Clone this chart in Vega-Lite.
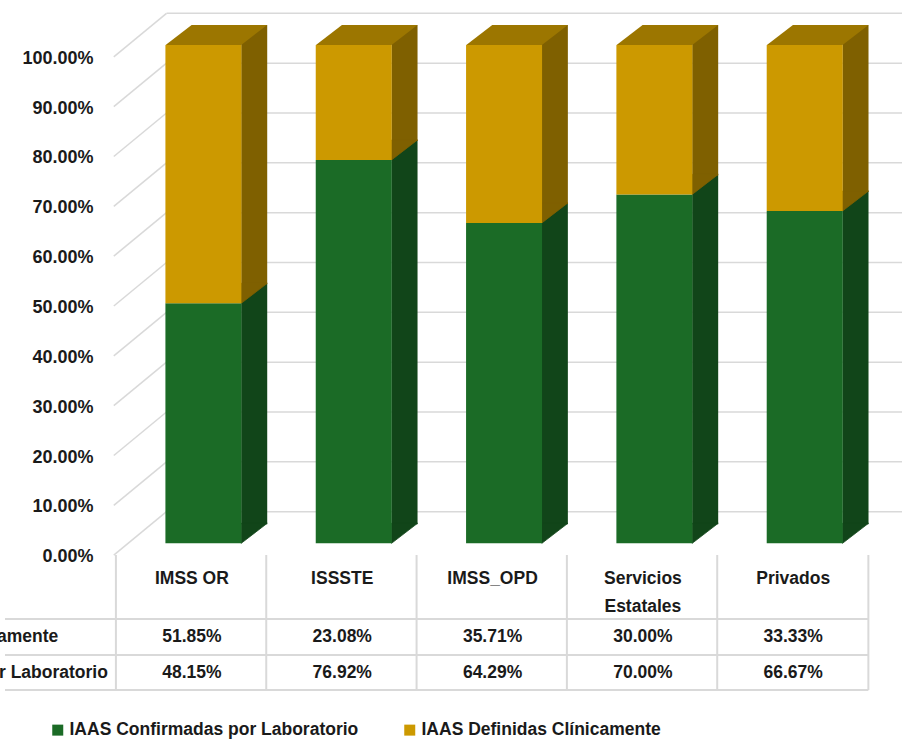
{
  "$schema": "https://vega.github.io/schema/vega-lite/v6.json",
  "width": 907,
  "height": 740,
  "autosize": {"type": "none"},
  "padding": 0,
  "background": "white",
  "config": {"view": {"stroke": null}},
  "datasets": {
    "main": [
      {"cat": "IMSS OR", "idx": 0, "serie": "IAAS Confirmadas por Laboratorio", "value": 0.4815},
      {"cat": "IMSS OR", "idx": 0, "serie": "IAAS Definidas Clínicamente", "value": 0.5185},
      {"cat": "ISSSTE", "idx": 1, "serie": "IAAS Confirmadas por Laboratorio", "value": 0.7692},
      {"cat": "ISSSTE", "idx": 1, "serie": "IAAS Definidas Clínicamente", "value": 0.2308},
      {"cat": "IMSS_OPD", "idx": 2, "serie": "IAAS Confirmadas por Laboratorio", "value": 0.6429},
      {"cat": "IMSS_OPD", "idx": 2, "serie": "IAAS Definidas Clínicamente", "value": 0.3571},
      {"cat": "Servicios Estatales", "idx": 3, "serie": "IAAS Confirmadas por Laboratorio", "value": 0.70},
      {"cat": "Servicios Estatales", "idx": 3, "serie": "IAAS Definidas Clínicamente", "value": 0.30},
      {"cat": "Privados", "idx": 4, "serie": "IAAS Confirmadas por Laboratorio", "value": 0.6667},
      {"cat": "Privados", "idx": 4, "serie": "IAAS Definidas Clínicamente", "value": 0.3333}
    ],
    "ticks": [{"t": 0}, {"t": 0.1}, {"t": 0.2}, {"t": 0.3}, {"t": 0.4}, {"t": 0.5}, {"t": 0.6}, {"t": 0.7}, {"t": 0.8}, {"t": 0.9}, {"t": 1}],
    "cats": [
      {"idx": 0, "label": "IMSS OR"},
      {"idx": 1, "label": "ISSSTE"},
      {"idx": 2, "label": "IMSS_OPD"},
      {"idx": 3, "label": "Servicios\nEstatales"},
      {"idx": 4, "label": "Privados"}
    ],
    "series": [
      {"serie": "IAAS Definidas Clínicamente"},
      {"serie": "IAAS Confirmadas por Laboratorio"}
    ]
  },
  "layer": [
    {
      "data": {"name": "ticks"},
      "mark": {"type": "rule", "color": "#d9d9d9", "strokeWidth": 1.5, "yOffset": -45},
      "encoding": {
        "x": {"datum": -0.16908, "type": "quantitative", "scale": {"type": "linear", "domain": [-1.24342, 4.72368], "nice": false, "zero": false}, "axis": null},
        "x2": {"datum": 4.72368},
        "y": {"field": "t", "type": "quantitative", "scale": {"type": "linear", "domain": [-0.36778, 1.11697], "nice": false, "zero": false},
          "axis": {"values": [0, 0.1, 0.2, 0.3, 0.4, 0.5, 0.6, 0.7, 0.8, 0.9, 1], "format": ".2%", "offset": -110, "domain": false, "ticks": false, "grid": false, "labelPadding": 17, "labelFont": "Liberation Sans", "labelFontWeight": "bold", "labelFontSize": 18, "labelColor": "#1a1a1a", "title": null}}
      }
    },
    {
      "data": {"name": "ticks"},
      "mark": {"type": "rule", "color": "#d9d9d9", "strokeWidth": 1.5, "yOffset": -1.5, "y2Offset": -45},
      "encoding": {
        "x": {"datum": -0.51974, "type": "quantitative"},
        "x2": {"datum": -0.16908},
        "y": {"field": "t", "type": "quantitative"},
        "y2": {"field": "t"}
      }
    },
    {
      "data": {"name": "main"},
      "transform": [{"stack": "value", "groupby": ["cat"], "sort": [{"field": "serie", "order": "ascending"}], "as": ["v0", "v1"]}],
      "mark": {"type": "bar", "width": 26, "xOffset": 62.3, "yOffset": -33.4, "y2Offset": -32.4},
      "encoding": {
        "x": {"field": "idx", "type": "quantitative"},
        "y": {"field": "v1", "type": "quantitative"},
        "y2": {"field": "v0"},
        "color": {"condition": {"test": "datum.serie === 'IAAS Definidas Clínicamente'", "value": "#7f6000"}, "value": "#114519"}
      }
    },
    {
      "data": {"name": "main"},
      "transform": [{"stack": "value", "groupby": ["cat"], "sort": [{"field": "serie", "order": "ascending"}], "as": ["v0", "v1"]}],
      "mark": {"type": "point", "shape": "M0,-20L0,0L26,-20Z", "size": 4, "filled": true, "opacity": 1, "strokeWidth": 0.8, "xOffset": 49.3, "yOffset": -13.4},
      "encoding": {
        "x": {"field": "idx", "type": "quantitative"},
        "y": {"field": "v0", "type": "quantitative"},
        "fill": {"condition": {"test": "datum.serie === 'IAAS Definidas Clínicamente'", "value": "#7f6000"}, "value": "#114519"},
        "stroke": {"condition": {"test": "datum.serie === 'IAAS Definidas Clínicamente'", "value": "#7f6000"}, "value": "#114519"}
      }
    },
    {
      "data": {"name": "main"},
      "transform": [{"stack": "value", "groupby": ["cat"], "sort": [{"field": "serie", "order": "ascending"}], "as": ["v0", "v1"]}],
      "mark": {"type": "bar", "width": 76, "xOffset": 11.5, "yOffset": -13.4, "y2Offset": -13.4},
      "encoding": {
        "x": {"field": "idx", "type": "quantitative"},
        "y": {"field": "v1", "type": "quantitative"},
        "y2": {"field": "v0"},
        "color": {
          "field": "serie", "type": "nominal",
          "scale": {"domain": ["IAAS Confirmadas por Laboratorio", "IAAS Definidas Clínicamente"], "range": ["#1b6b26", "#cc9900"]},
          "legend": {"orient": "none", "legendX": 49, "legendY": 721, "direction": "horizontal", "title": null, "padding": 0,
            "symbolType": "square", "symbolSize": 121, "symbolStrokeWidth": 0, "symbolOpacity": 1,
            "labelFont": "Liberation Sans", "labelFontWeight": "bold", "labelFontSize": 17.5, "labelColor": "#1a1a1a",
            "labelOffset": 3, "columnPadding": 42, "labelLimit": 400}
        }
      }
    },
    {
      "data": {"name": "main"},
      "transform": [
        {"stack": "value", "groupby": ["cat"], "sort": [{"field": "serie", "order": "ascending"}], "as": ["v0", "v1"]},
        {"filter": "datum.serie === 'IAAS Definidas Clínicamente'"}
      ],
      "mark": {"type": "point", "shape": "M0,0L75.6,0L101.6,-20L26,-20Z", "size": 4, "filled": true, "opacity": 1, "strokeWidth": 0, "xOffset": -26.3, "yOffset": -13.4, "color": "#9c7600"},
      "encoding": {
        "x": {"field": "idx", "type": "quantitative"},
        "y": {"field": "v1", "type": "quantitative"}
      }
    },
    {
      "data": {"name": "cats"},
      "mark": {"type": "rule", "color": "#d9d9d9", "strokeWidth": 2, "xOffset": -76},
      "encoding": {
        "x": {"field": "idx", "type": "quantitative"},
        "y": {"datum": 0.0034, "type": "quantitative"},
        "y2": {"datum": -0.2675}
      }
    },
    {
      "data": {"values": [{}]},
      "mark": {"type": "rule", "color": "#d9d9d9", "strokeWidth": 2},
      "encoding": {
        "x": {"datum": 4.5, "type": "quantitative"},
        "y": {"datum": 0.0034, "type": "quantitative"},
        "y2": {"datum": -0.2675}
      }
    },
    {
      "data": {"values": [{}]},
      "mark": {"type": "rule", "color": "#d9d9d9", "strokeWidth": 2},
      "encoding": {
        "x": {"datum": -1.24342, "type": "quantitative"},
        "x2": {"datum": 4.5},
        "y": {"datum": -0.125, "type": "quantitative"}
      }
    },
    {
      "data": {"values": [{}]},
      "mark": {"type": "rule", "color": "#d9d9d9", "strokeWidth": 2},
      "encoding": {
        "x": {"datum": -1.24342, "type": "quantitative"},
        "x2": {"datum": 4.5},
        "y": {"datum": -0.1972, "type": "quantitative"}
      }
    },
    {
      "data": {"values": [{}]},
      "mark": {"type": "rule", "color": "#d9d9d9", "strokeWidth": 2},
      "encoding": {
        "x": {"datum": -1.24342, "type": "quantitative"},
        "x2": {"datum": 4.5},
        "y": {"datum": -0.2675, "type": "quantitative"}
      }
    },
    {
      "data": {"name": "cats"},
      "mark": {"type": "text", "font": "Liberation Sans", "fontWeight": "bold", "fontSize": 17.5, "color": "#1a1a1a", "baseline": "top", "align": "center", "lineBreak": "\n", "lineHeight": 28},
      "encoding": {
        "x": {"field": "idx", "type": "quantitative"},
        "y": {"datum": -0.02669, "type": "quantitative"},
        "text": {"field": "label", "type": "nominal"}
      }
    },
    {
      "data": {"name": "main"},
      "transform": [{"filter": "datum.serie === 'IAAS Definidas Clínicamente'"}],
      "mark": {"type": "text", "font": "Liberation Sans", "fontWeight": "bold", "fontSize": 17.5, "color": "#1a1a1a", "baseline": "middle", "align": "center"},
      "encoding": {
        "x": {"field": "idx", "type": "quantitative"},
        "y": {"datum": -0.1605, "type": "quantitative"},
        "text": {"field": "value", "type": "quantitative", "format": ".2%"}
      }
    },
    {
      "data": {"name": "main"},
      "transform": [{"filter": "datum.serie === 'IAAS Confirmadas por Laboratorio'"}],
      "mark": {"type": "text", "font": "Liberation Sans", "fontWeight": "bold", "fontSize": 17.5, "color": "#1a1a1a", "baseline": "middle", "align": "center"},
      "encoding": {
        "x": {"field": "idx", "type": "quantitative"},
        "y": {"datum": -0.234, "type": "quantitative"},
        "text": {"field": "value", "type": "quantitative", "format": ".2%"}
      }
    },
    {
      "data": {"name": "series"},
      "transform": [{"filter": "datum.serie === 'IAAS Definidas Clínicamente'"}],
      "mark": {"type": "text", "font": "Liberation Sans", "fontWeight": "bold", "fontSize": 17.5, "color": "#1a1a1a", "baseline": "middle", "align": "left"},
      "encoding": {
        "x": {"datum": -2.48, "type": "quantitative"},
        "y": {"datum": -0.1605, "type": "quantitative"},
        "text": {"field": "serie", "type": "nominal"}
      }
    },
    {
      "data": {"name": "series"},
      "transform": [{"filter": "datum.serie === 'IAAS Confirmadas por Laboratorio'"}],
      "mark": {"type": "text", "font": "Liberation Sans", "fontWeight": "bold", "fontSize": 17.5, "color": "#1a1a1a", "baseline": "middle", "align": "left"},
      "encoding": {
        "x": {"datum": -2.48, "type": "quantitative"},
        "y": {"datum": -0.234, "type": "quantitative"},
        "text": {"field": "serie", "type": "nominal"}
      }
    }
  ]
}
